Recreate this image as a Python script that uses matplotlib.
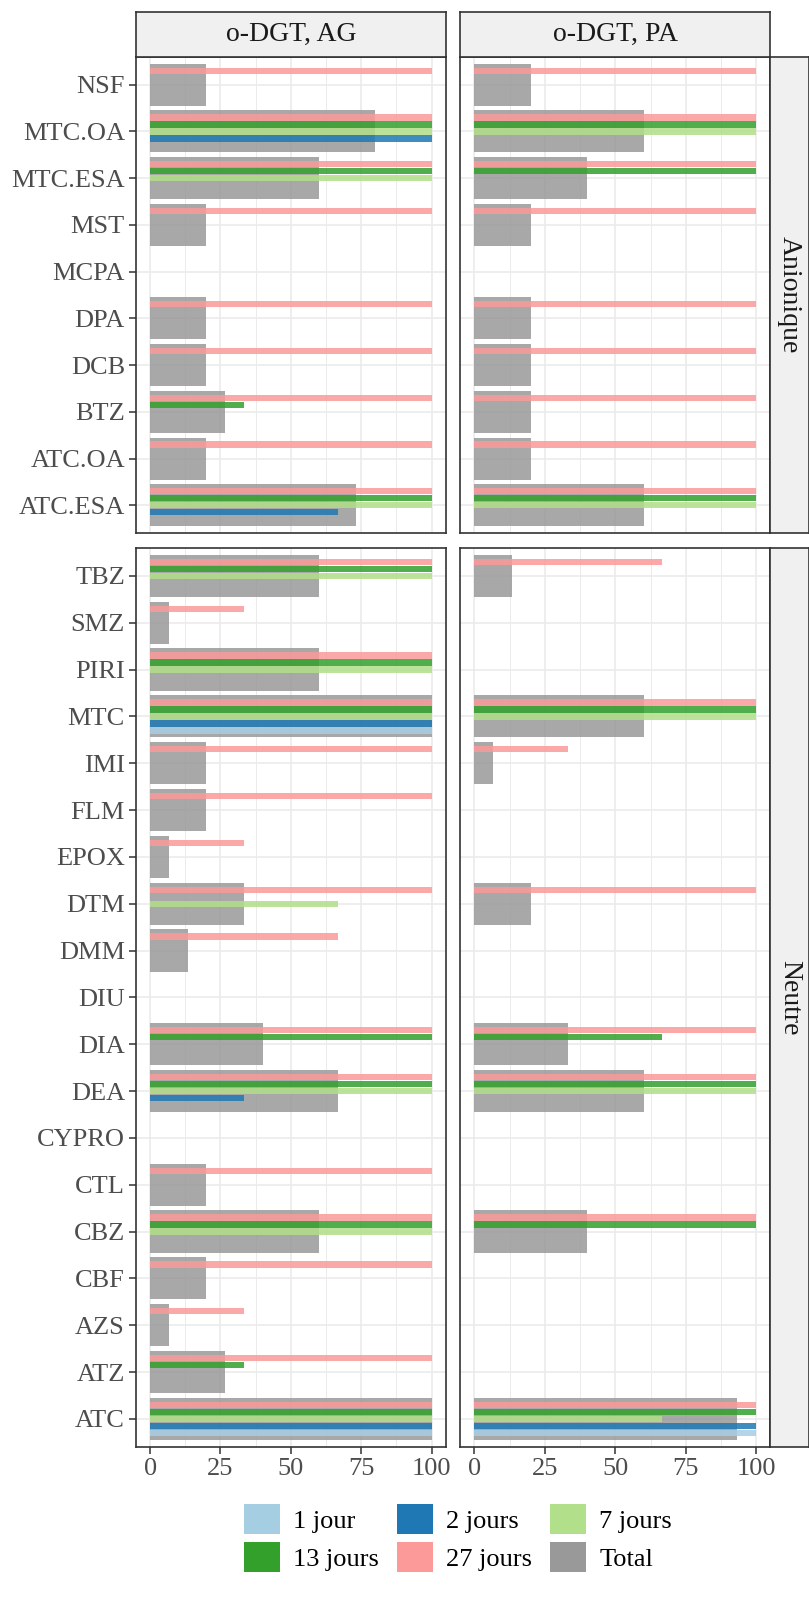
import matplotlib
matplotlib.use("Agg")
import matplotlib.pyplot as plt
from matplotlib.patches import Patch
import numpy as np

W, H, DPI = 809, 1611, 100
plt.rcParams['font.family'] = ['Liberation Serif', 'DejaVu Serif']

# ---------------- data ----------------
durations = ['1 jour', '2 jours', '7 jours', '13 jours', '27 jours']
dur_colors = ['#A6CEE3', '#1F78B4', '#B2DF8A', '#33A02C', '#FB9A99']
total_color = '#999999'
methods = ['o-DGT, AG', 'o-DGT, PA']
groups = ['Anionique', 'Neutre']

anion_cats = ['NSF', 'MTC.OA', 'MTC.ESA', 'MST', 'MCPA', 'DPA', 'DCB', 'BTZ', 'ATC.OA', 'ATC.ESA']
neutre_cats = ['TBZ', 'SMZ', 'PIRI', 'MTC', 'IMI', 'FLM', 'EPOX', 'DTM', 'DMM', 'DIU',
               'DIA', 'DEA', 'CYPRO', 'CTL', 'CBZ', 'CBF', 'AZS', 'ATZ', 'ATC']

# o-DGT, AG  - Anionique
ag_an_1 = [0, 0, 0, 0, 0, 0, 0, 0, 0, 0]
ag_an_2 = [0, 100, 0, 0, 0, 0, 0, 0, 0, 66.7]
ag_an_7 = [0, 100, 100, 0, 0, 0, 0, 0, 0, 100]
ag_an_13 = [0, 100, 100, 0, 0, 0, 0, 33.3, 0, 100]
ag_an_27 = [100, 100, 100, 100, 0, 100, 100, 100, 100, 100]
ag_an_tot = [20, 80, 60, 20, 0, 20, 20, 26.7, 20, 73.3]

# o-DGT, PA  - Anionique
pa_an_1 = [0, 0, 0, 0, 0, 0, 0, 0, 0, 0]
pa_an_2 = [0, 0, 0, 0, 0, 0, 0, 0, 0, 0]
pa_an_7 = [0, 100, 0, 0, 0, 0, 0, 0, 0, 100]
pa_an_13 = [0, 100, 100, 0, 0, 0, 0, 0, 0, 100]
pa_an_27 = [100, 100, 100, 100, 0, 100, 100, 100, 100, 100]
pa_an_tot = [20, 60, 40, 20, 0, 20, 20, 20, 20, 60]

# o-DGT, AG  - Neutre
ag_ne_1 = [0, 0, 0, 100, 0, 0, 0, 0, 0, 0, 0, 0, 0, 0, 0, 0, 0, 0, 100]
ag_ne_2 = [0, 0, 0, 100, 0, 0, 0, 0, 0, 0, 0, 33.3, 0, 0, 0, 0, 0, 0, 100]
ag_ne_7 = [100, 0, 100, 100, 0, 0, 0, 66.7, 0, 0, 0, 100, 0, 0, 100, 0, 0, 0, 100]
ag_ne_13 = [100, 0, 100, 100, 0, 0, 0, 0, 0, 0, 100, 100, 0, 0, 100, 0, 0, 33.3, 100]
ag_ne_27 = [100, 33.3, 100, 100, 100, 100, 33.3, 100, 66.7, 0, 100, 100, 0, 100, 100, 100, 33.3, 100, 100]
ag_ne_tot = [60, 6.7, 60, 100, 20, 20, 6.7, 33.3, 13.3, 0, 40, 66.7, 0, 20, 60, 20, 6.7, 26.7, 100]

# o-DGT, PA  - Neutre
pa_ne_1 = [0, 0, 0, 0, 0, 0, 0, 0, 0, 0, 0, 0, 0, 0, 0, 0, 0, 0, 100]
pa_ne_2 = [0, 0, 0, 0, 0, 0, 0, 0, 0, 0, 0, 0, 0, 0, 0, 0, 0, 0, 100]
pa_ne_7 = [0, 0, 0, 100, 0, 0, 0, 0, 0, 0, 0, 100, 0, 0, 0, 0, 0, 0, 66.7]
pa_ne_13 = [0, 0, 0, 100, 0, 0, 0, 0, 0, 0, 66.7, 100, 0, 0, 100, 0, 0, 0, 100]
pa_ne_27 = [66.7, 0, 0, 100, 33.3, 0, 0, 100, 0, 0, 100, 100, 0, 0, 100, 0, 0, 0, 100]
pa_ne_tot = [13.3, 0, 0, 60, 6.7, 0, 0, 20, 0, 0, 33.3, 60, 0, 0, 40, 0, 0, 0, 93.3]

x_ticks = [0, 25, 50, 75, 100]

panels = {
    ('Anionique', 'o-DGT, AG'): ([ag_an_1, ag_an_2, ag_an_7, ag_an_13, ag_an_27], ag_an_tot),
    ('Anionique', 'o-DGT, PA'): ([pa_an_1, pa_an_2, pa_an_7, pa_an_13, pa_an_27], pa_an_tot),
    ('Neutre', 'o-DGT, AG'): ([ag_ne_1, ag_ne_2, ag_ne_7, ag_ne_13, ag_ne_27], ag_ne_tot),
    ('Neutre', 'o-DGT, PA'): ([pa_ne_1, pa_ne_2, pa_ne_7, pa_ne_13, pa_ne_27], pa_ne_tot),
}
cats_by_group = {'Anionique': anion_cats, 'Neutre': neutre_cats}

# ---------------- layout (pixels) ----------------
fig = plt.figure(figsize=(W / DPI, H / DPI), dpi=DPI)
fig.patch.set_facecolor('white')

def box(x0, y0, x1, y1):
    return [x0 / W, 1 - y1 / H, (x1 - x0) / W, (y1 - y0) / H]

col_x = [(136.0, 445.7), (460.2, 770.4)]
row_y = [(56.7, 533.3), (547.8, 1447.0)]
strip_top = (12.3, 56.7)
strip_right = (770.4, 808.5)

border = '#333333'
grid_c = '#EBEBEB'
FS = 19

dodge = 0.15
bar_h = 0.135
offsets = [-2 * dodge, -dodge, 0, dodge, 2 * dodge]  # 1 jour bottom ... 27 jours top

for ri, grp in enumerate(groups):
    cats = cats_by_group[grp]
    n = len(cats)
    ypos = np.arange(n)[::-1].astype(float)
    for ci, meth in enumerate(methods):
        series, total = panels[(grp, meth)]
        x0, x1 = col_x[ci]
        y0, y1 = row_y[ri]
        ax = fig.add_axes(box(x0, y0, x1, y1))
        ax.set_xlim(-5, 105)
        ax.set_ylim(-0.6, n - 1 + 0.6)
        ax.set_axisbelow(True)
        ax.set_xticks(x_ticks)
        ax.set_xticks([12.5, 37.5, 62.5, 87.5], minor=True)
        ax.set_yticks(ypos)
        ax.grid(True, which='major', color=grid_c, lw=1.2)
        ax.grid(True, which='minor', axis='x', color=grid_c, lw=0.7)
        ax.barh(ypos, total, height=0.9, color=total_color, alpha=0.85, lw=0, zorder=2)
        for k, vals in enumerate(series):
            ax.barh(ypos + offsets[k], vals, height=bar_h, color=dur_colors[k],
                    alpha=0.85, lw=0, zorder=3)
        for s in ax.spines.values():
            s.set_color(border)
            s.set_linewidth(1.2)
        ax.tick_params(which='minor', length=0)
        ax.tick_params(which='major', color=border, width=1.1, length=5,
                       labelsize=FS, labelcolor='#4D4D4D', pad=3)
        if ci == 0:
            ax.set_yticklabels(cats)
        else:
            ax.tick_params(axis='y', length=0, labelleft=False)
        if ri == 1:
            ax.set_xticklabels([str(t) for t in x_ticks])
        else:
            ax.tick_params(axis='x', length=0, labelbottom=False)

        # top strips
        if ri == 0:
            sax = fig.add_axes(box(x0, strip_top[0], x1, strip_top[1]))
            sax.set_facecolor('#F0F0F0')
            sax.set_xticks([]); sax.set_yticks([])
            for s in sax.spines.values():
                s.set_color(border); s.set_linewidth(1.2)
            sax.text(0.5, 0.5, meth, ha='center', va='center', fontsize=FS + 1,
                     color='#1A1A1A', transform=sax.transAxes)
    # right strips
    y0, y1 = row_y[ri]
    rax = fig.add_axes(box(strip_right[0], y0, strip_right[1], y1))
    rax.set_facecolor('#F0F0F0')
    rax.set_xticks([]); rax.set_yticks([])
    for s in rax.spines.values():
        s.set_color(border); s.set_linewidth(1.2)
    rax.text(0.5, 0.5, grp, ha='center', va='center', fontsize=FS + 1, rotation=-90,
             color='#1A1A1A', transform=rax.transAxes)

# ---------------- legend ----------------
leg_labels = durations + ['Total']
leg_colors = dur_colors + [total_color]
handles = [Patch(facecolor=c, edgecolor='none', label=l) for l, c in zip(leg_labels, leg_colors)]
# row-wise order: 1 jour, 2 jours, 7 jours / 13 jours, 27 jours, Total
order = [0, 3, 1, 4, 2, 5]
fig.legend(handles=[handles[i] for i in order], loc='center',
           bbox_to_anchor=(458 / W, 1 - 1538 / H), ncol=3, frameon=False,
           fontsize=FS, handlelength=1.35, handleheight=1.35, handletextpad=0.5,
           columnspacing=0.7, labelspacing=0.3, borderpad=0)

fig.savefig('out.png', dpi=DPI)
